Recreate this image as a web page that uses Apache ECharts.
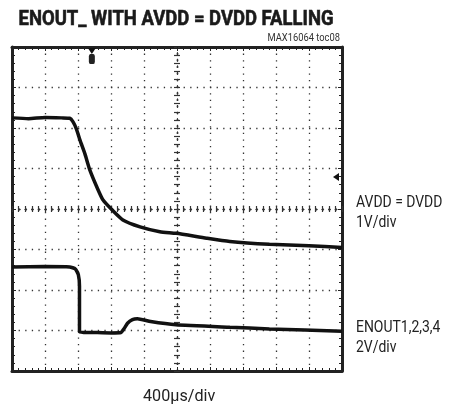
<!DOCTYPE html>
<html>
<head>
<meta charset="utf-8">
<script src="https://cdn.jsdelivr.net/npm/echarts@6/dist/echarts.min.js"></script>
<style>
html, body { margin: 0; padding: 0; background: #fff; }
#chart { width: 451px; height: 406px; }
</style>
</head>
<body>
<div id="chart"></div>
<script>
// scope screen in divisions: 10 across, 8 up
var xDivs = [0, 10]
var yDivs = [0, 8]

// AVDD = DVDD trace (1V/div)
var avdd = [
	[0, 6.25], [0.5, 6.23], [1, 6.26], [1.5, 6.25], [1.75, 6.24], [1.85, 6.15],
	[1.95, 5.98], [2.06, 5.70], [2.21, 5.36], [2.36, 4.96], [2.61, 4.47], [2.76, 4.22],
	[3.03, 3.98], [3.36, 3.73], [3.88, 3.56], [4.48, 3.44], [4.97, 3.40], [5.9, 3.28],
	[6.6, 3.20], [7.8, 3.13], [9.0, 3.09], [10, 3.05]
]

// ENOUT1,2,3,4 trace (2V/div)
var enout = [
	[0, 2.57], [1, 2.58], [1.75, 2.57], [1.92, 2.52], [2.01, 2.38], [2.045, 2.1],
	[2.045, 0.96], [2.5, 0.95], [3.0, 0.94], [3.3, 0.95], [3.4, 1.05], [3.5, 1.18],
	[3.65, 1.27], [3.8, 1.29], [4.2, 1.22], [4.97, 1.14], [6.6, 1.08], [7.8, 1.04],
	[10, 0.98]
]

// trigger markers
var trigPos = [2.42, 8]
var trigLevel = [10, 4.79]

var title = 'ENOUT_ WITH AVDD = DVDD FALLING'
var tocLabel = 'MAX16064 toc08'
var timeLabel = '400µs/div'
var chLabels = [['AVDD = DVDD', '1V/div'], ['ENOUT1,2,3,4', '2V/div']]

var font = 'Roboto, "Liberation Sans", sans-serif'
var dotted = { color: '#333', width: 1.3, type: [1.3, 5.3] }

function frameAxis(pos, isX, grid) {
	return {
		type: 'value',
		position: pos,
		min: isX ? xDivs[0] : yDivs[0],
		max: isX ? xDivs[1] : yDivs[1],
		interval: 1,
		axisLabel: { show: false },
		axisLine: { show: true, onZero: false, lineStyle: { color: '#222', width: 3 } },
		axisTick: { show: true, inside: true, length: 4, lineStyle: { color: '#222', width: 1 } },
		minorTick: { show: true, splitNumber: 5, length: 3, lineStyle: { color: '#222', width: 1 } },
		splitLine: { show: grid, lineStyle: dotted },
		minorSplitLine: { show: false }
	}
}

// centre cross-hair with small ticks both sides
function centerAxis(pos, isX, inside) {
	return {
		type: 'value',
		position: pos,
		offset: isX ? -162 : -165,
		min: isX ? xDivs[0] : yDivs[0],
		max: isX ? xDivs[1] : yDivs[1],
		interval: 1,
		axisLabel: { show: false },
		axisLine: { show: true, onZero: false, lineStyle: dotted },
		axisTick: { show: true, inside: inside, length: 3, lineStyle: { color: '#333', width: 1.2 } },
		minorTick: { show: true, splitNumber: 5, length: 3, lineStyle: { color: '#333', width: 1.2 } },
		splitLine: { show: false }
	}
}

function label(text, x, y, size, opts) {
	return Object.assign({
		type: 'text',
		x: x,
		y: y,
		silent: true,
		style: { text: text, font: size + 'px ' + font, fill: '#222', verticalAlign: 'middle' }
	}, opts || {})
}

var myChart = echarts.init(document.getElementById('chart'))

myChart.setOption({
	animation: false,
	grid: {
		left: 12,
		right: 109,
		top: 47,
		bottom: 35
	},
	xAxis: [
		frameAxis('bottom', true, true),
		frameAxis('top', true, false),
		centerAxis('bottom', true, true),
		centerAxis('bottom', true, false)
	],
	yAxis: [
		frameAxis('left', false, true),
		frameAxis('right', false, false),
		centerAxis('left', false, true),
		centerAxis('left', false, false)
	],
	graphic: [
		{
			type: 'text', x: 176, y: 20, scaleX: 0.88, silent: true,
			style: { text: title, font: 'bold 21px ' + font, fill: '#1a1a1a', align: 'center', verticalAlign: 'middle',
				stroke: '#1a1a1a', lineWidth: 0.6 }
		},
		{
			type: 'text', x: 340, y: 38, scaleX: 0.85, silent: true,
			style: { text: tocLabel, font: '11px ' + font, fill: '#333', align: 'right', verticalAlign: 'middle' }
		},
		label(chLabels[0][0], 356, 203, 17, { scaleX: 0.82 }),
		label(chLabels[0][1], 356, 223, 17, { scaleX: 0.82 }),
		label(chLabels[1][0], 356, 328, 17, { scaleX: 0.82 }),
		label(chLabels[1][1], 356, 348, 17, { scaleX: 0.82 }),
		label(timeLabel, 143, 397, 17, { scaleX: 0.95 })
	],
	series: [{
		name: 'AVDD',
		type: 'line',
		data: avdd,
		symbol: 'none',
		smooth: 0.2,
		lineStyle: { color: '#111', width: 3.5 },
		z: 5,
		markPoint: {
			silent: true,
			label: { show: false },
			data: [{
				coord: trigPos,
				symbol: 'triangle',
				symbolSize: [8, 6],
				symbolRotate: 180,
				symbolOffset: [0, 4],
				itemStyle: { color: '#111' }
			}, {
				coord: trigPos,
				symbol: 'roundRect',
				symbolSize: [6, 10],
				symbolOffset: [0, 12],
				itemStyle: { color: '#222' }
			}, {
				coord: trigLevel,
				symbol: 'triangle',
				symbolSize: [8, 6],
				symbolRotate: 90,
				symbolOffset: [-6, 0],
				itemStyle: { color: '#111' }
			}]
		}
	}, {
		name: 'ENOUT',
		type: 'line',
		data: enout,
		symbol: 'none',
		smooth: 0.15,
		lineStyle: { color: '#111', width: 3.5 },
		z: 5
	}]
})
</script>
</body>
</html>
